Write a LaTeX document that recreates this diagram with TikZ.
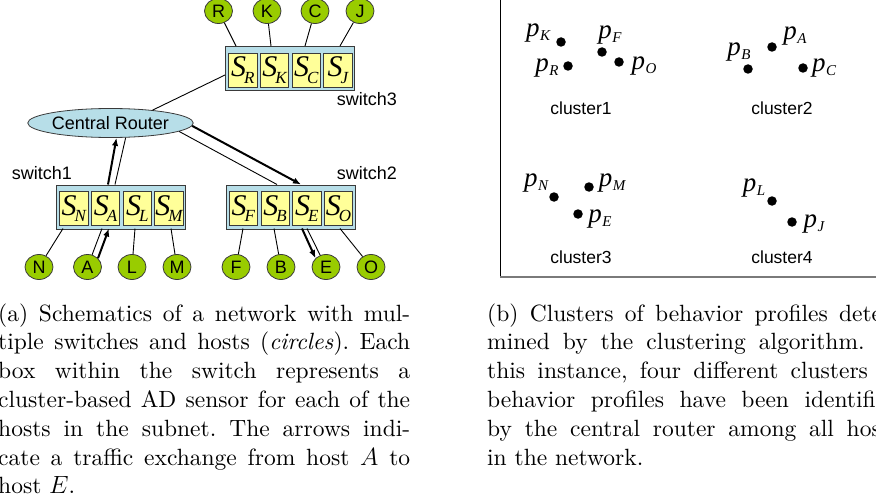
\documentclass[tikz,border=0pt]{standalone}
\usepackage{fontspec}
% captions keep the 10pt design of Latin Modern at every size
\setmainfont{lmroman10}[Extension=.otf, UprightFont=*-regular, ItalicFont=*-italic, BoldFont=*-bold, BoldItalicFont=*-bolditalic]
\newfontfamily\arial{Liberation Sans}
\newfontfamily\tms{Liberation Serif}
\usetikzlibrary{arrows.meta,calc,shapes.geometric}
\frenchspacing

\definecolor{hostgreen}{HTML}{99CC00}
\definecolor{swblue}{HTML}{B7DEE8}
\definecolor{cellyellow}{HTML}{FFFF99}
\definecolor{edgegray}{HTML}{3A3A3A}
\definecolor{framegray}{HTML}{7A7A7A}

% S with a subscript, as printed in a sensor cell
\newcommand\swcell[1]{{\tms\itshape\fontsize{30}{30}\selectfont S}\kern-2pt\raisebox{-6.5pt}{\tms\itshape\fontsize{17}{17}\selectfont #1}}
% p with a subscript, for a behavior profile
\newcommand\profl[1]{{\tms\itshape\fontsize{27}{27}\selectfont p}\kern0.5pt\raisebox{-4.5pt}{\tms\itshape\fontsize{15}{15}\selectfont #1}}

\tikzset{
  host/.style={ellipse, draw=edgegray, fill=hostgreen, line width=0.8pt,
    minimum width=28pt, minimum height=25pt, inner sep=0pt,
    font=\arial\fontsize{18}{18}\selectfont},
  switchbox/.style={rectangle, draw=edgegray, fill=swblue, line width=0.8pt,
    minimum width=129pt, minimum height=44pt, inner sep=0pt},
  cell/.style={rectangle, draw=edgegray, fill=cellyellow, line width=0.7pt,
    minimum width=28.4pt, minimum height=34pt, inner sep=0pt},
  router/.style={ellipse, draw=edgegray, fill=swblue, line width=0.8pt,
    minimum width=138pt, minimum height=29pt, inner sep=0pt,
    font=\arial\fontsize{18}{18}\selectfont},
  wire/.style={draw=black, line width=0.9pt},
  flow/.style={draw=black, line width=2pt, -{Latex[length=8pt,width=6.5pt]}},
  dot/.style={circle, fill=black, minimum size=9.5pt, inner sep=0pt},
  plabel/.style={inner sep=0pt},
  tag/.style={inner sep=0pt, font=\arial\fontsize{18}{18}\selectfont},
  ctag/.style={inner sep=0pt, font=\arial\fontsize{17.5}{17.5}\selectfont},
  capline/.style={anchor=base west, inner sep=0pt, font=\fontsize{23.5}{28.8}\selectfont},
}

\begin{document}
\begin{tikzpicture}[x=1pt, y=-1pt]
\useasboundingbox (0,0) rectangle (876,503);
\clip (0,0) rectangle (876,503);

% ---------------- network schematic ----------------
% switches and their sensor cells
\node[switchbox, anchor=north west] (sw3) at (225,46) {};
\foreach \s [count=\i from 0] in {R,K,C,J}
  \node[cell, anchor=north west] (sw3\s) at ($(sw3.north west)+(3.3+31.7*\i,6.7)$) {\swcell{\s}};
\node[switchbox, anchor=north west] (sw1) at (56,184.5) {};
\foreach \s [count=\i from 0] in {N,A,L,M}
  \node[cell, anchor=north west] (sw1\s) at ($(sw1.north west)+(3.3+31.7*\i,6.7)$) {\swcell{\s}};
\node[switchbox, anchor=north west] (sw2) at (225.5,184.5) {};
\foreach \s [count=\i from 0] in {F,B,E,O}
  \node[cell, anchor=north west] (sw2\s) at ($(sw2.north west)+(3.3+31.7*\i,6.7)$) {\swcell{\s}};

\node[tag, anchor=east] (lab3) at (397,99) {switch3};
\node[tag, anchor=east] (lab2) at (397,173) {switch2};
\node[tag] (lab1) at (42,173) {switch1};

% central router
\node[router] (router) at (110.5,123) {Central Router};

% hosts
\node[host] (R) at (218.5,11) {R};
\node[host] (K) at (267,11) {K};
\node[host] (C) at (315,11) {C};
\node[host] (J) at (360,11) {J};
\node[host] (N) at (39,267) {N};
\node[host] (A) at (87.5,267) {A};
\node[host] (L) at (132,267) {L};
\node[host] (M) at (177,267) {M};
\node[host] (F) at (236,267) {F};
\node[host] (B) at (281,267) {B};
\node[host] (E) at (326,267) {E};
\node[host] (O) at (371,267) {O};

% attachment points on the switch borders
\coordinate (t3R) at (236,46);
\coordinate (t3K) at (271,46);
\coordinate (t3C) at (305,46);
\coordinate (t3J) at (340,46);
\coordinate (w3) at (225,75);
\coordinate (t1a) at (108,184.5);
\coordinate (t1b) at (115,184.5);
\coordinate (t2a) at (301,184.5);
\coordinate (t2b) at (277,184.5);
\coordinate (b1N) at (63,228.5);
\coordinate (b1Aa) at (102,228.5);
\coordinate (b1Ab) at (109,228.5);
\coordinate (b1L) at (135,228.5);
\coordinate (b1M) at (171,228.5);
\coordinate (b2F) at (243,228.5);
\coordinate (b2B) at (274,228.5);
\coordinate (b2Ea) at (302,228.5);
\coordinate (b2Eb) at (307,228.5);
\coordinate (b2O) at (340,228.5);

% links
\draw[wire] (R) -- (t3R);
\draw[wire] (K) -- (t3K);
\draw[wire] (C) -- (t3C);
\draw[wire] (J) -- (t3J);
\draw[wire] (router.17) -- (w3);
\draw[wire] (t1b) -- (router.-44);
\draw[wire] (router.-7.5) -- (t2b);
\draw[wire] (N) -- (b1N);
\draw[wire] (A) -- (b1Aa);
\draw[wire] (L) -- (b1L);
\draw[wire] (M) -- (b1M);
\draw[wire] (F) -- (b2F);
\draw[wire] (B) -- (b2B);
\draw[wire] (E) -- (b2Eb);
\draw[wire] (O) -- (b2O);

% traffic from host A to host E
\draw[flow] (A.40) -- (b1Ab);
\draw[flow] (t1a) -- (router.-68);
\draw[flow] (router.-2) -- (t2a);
\draw[flow] (b2Ea) -- (E.140);

% ---------------- behavior profile clusters ----------------
\draw[black, line width=1pt] (500,-2) -- (500,277);
\draw[framegray, line width=2pt] (500,277) -- (880,277);

\node[dot] (pK) at (561,42) {};
\node[dot] (pR) at (568,66) {};
\node[dot] (pF) at (602,52) {};
\node[dot] (pO) at (619,62) {};
\node[dot] (pB) at (748,69) {};
\node[dot] (pA) at (772,47) {};
\node[dot] (pC) at (803,68) {};
\node[dot] (pN) at (554,197) {};
\node[dot] (pM) at (589,187) {};
\node[dot] (pE) at (578,214) {};
\node[dot] (pL) at (772,201) {};
\node[dot] (pJ) at (792,222) {};

\node[plabel] (lK) at (538,33) {\profl{K}};
\node[plabel] (lR) at (547,68) {\profl{R}};
\node[plabel] (lF) at (610,35) {\profl{F}};
\node[plabel] (lO) at (644,66) {\profl{O}};
\node[plabel] (lB) at (739,52) {\profl{B}};
\node[plabel] (lA) at (795,36) {\profl{A}};
\node[plabel] (lC) at (824,68) {\profl{C}};
\node[plabel] (lN) at (536,183) {\profl{N}};
\node[plabel] (lM) at (612,183) {\profl{M}};
\node[plabel] (lE) at (600,219) {\profl{E}};
\node[plabel] (lL) at (754,188) {\profl{L}};
\node[plabel] (lJ) at (814,224) {\profl{J}};

\node[ctag] (c1) at (581,108) {cluster1};
\node[ctag] (c2) at (782,108) {cluster2};
\node[ctag] (c3) at (581,257) {cluster3};
\node[ctag] (c4) at (782,257) {cluster4};

% ---------------- captions ----------------
\node[capline] (a1) at (-2,321) {\makebox[412pt][s]{(a) Schematics of a network with mul-}};
\node[capline] (a2) at (-2,349.8) {\makebox[412pt][s]{tiple switches and hosts (\textit{circles}). Each}};
\node[capline] (a3) at (-2,378.6) {\makebox[412pt][s]{box within the switch represents a}};
\node[capline] (a4) at (-2,407.4) {\makebox[412pt][s]{cluster-based AD sensor for each of the}};
\node[capline] (a5) at (-2,436.2) {\makebox[412pt][s]{hosts in the subnet. The arrows indi-}};
\node[capline] (a6) at (-2,465) {\makebox[412pt][s]{cate a traffic exchange from host $A$ to}};
\node[capline] (a7) at (-2,493.8) {host $E$.};

\node[capline] (b1) at (487,321) {\makebox[412pt][s]{(b) Clusters of behavior profiles deter-}};
\node[capline] (b2) at (487,349.8) {\makebox[412pt][s]{mined by the clustering algorithm. In}};
\node[capline] (b3) at (487,378.6) {\makebox[412pt][s]{this instance, four different clusters of}};
\node[capline] (b4) at (487,407.4) {\makebox[412pt][s]{behavior profiles have been identified}};
\node[capline] (b5) at (487,436.2) {\makebox[412pt][s]{by the central router among all hosts}};
\node[capline] (b6) at (487,465) {in the network.};
\end{tikzpicture}
\end{document}
